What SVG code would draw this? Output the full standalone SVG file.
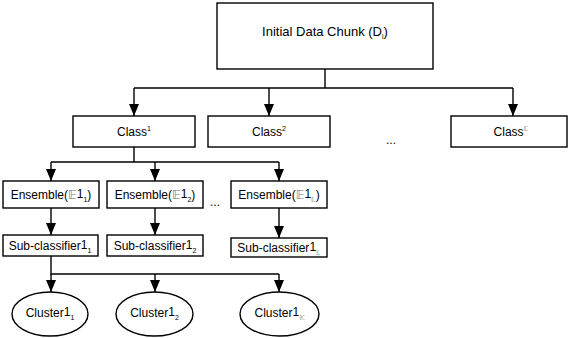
<svg xmlns="http://www.w3.org/2000/svg" width="569" height="338" viewBox="0 0 569 338">
<style>
.box{fill:#fff;stroke:#000;stroke-width:1.4}
.ln{fill:none;stroke:#000;stroke-width:1.4}
text{font-family:"Liberation Sans",Arial,sans-serif;font-size:12px;fill:#000;text-anchor:middle}
.ds{font-family:"DejaVu Sans","Noto Sans",sans-serif;fill:#777}
.sm{font-size:7px}
.big{font-size:13px}
</style>
<rect width="569" height="338" fill="#fff"/>
<g id="connectors">
<path class="ln" d="M325,69 V88 M134,88 H513"/>
<path class="ln" d="M134,88 V116"/>
<path class="ln" d="M269,88 V116"/>
<path class="ln" d="M513,88 V116"/>
<path class="ln" d="M134,147 V162 M51,162 H279"/>
<path class="ln" d="M51,162 V181"/>
<path class="ln" d="M155,162 V181"/>
<path class="ln" d="M279,162 V181"/>
<path class="ln" d="M51,208 V235"/>
<path class="ln" d="M155,208 V235"/>
<path class="ln" d="M279,208 V238"/>
<path class="ln" d="M51,256 V274 H279"/>
<path class="ln" d="M51,274 V292"/>
<path class="ln" d="M155,274 V292"/>
<path class="ln" d="M279,274 V292"/>
<g fill="#000">
<path d="M129,104 H139 L134,116 Z"/>
<path d="M264,104 H274 L269,116 Z"/>
<path d="M508,104 H518 L513,116 Z"/>
<path d="M46,169 H56 L51,181 Z"/>
<path d="M150,169 H160 L155,181 Z"/>
<path d="M274,169 H284 L279,181 Z"/>
<path d="M46,223 H56 L51,235 Z"/>
<path d="M150,223 H160 L155,235 Z"/>
<path d="M274,226 H284 L279,238 Z"/>
<path d="M46,280 H56 L51,292 Z"/>
<path d="M150,280 H160 L155,292 Z"/>
<path d="M274,280 H284 L279,292 Z"/>
</g>
</g>
<g id="initial">
<rect class="box" x="217" y="3" width="216" height="66"/>
<text class="big" x="325" y="36">Initial Data Chunk (D<tspan class="sm" dy="3">i</tspan><tspan dy="-3">)</tspan></text>
</g>
<g id="class1">
<rect class="box" x="73" y="116" width="122" height="31"/>
<text x="134" y="136">Class<tspan class="sm" dy="-5">1</tspan></text>
</g>
<g id="class2">
<rect class="box" x="208" y="116" width="122" height="31"/>
<text x="269" y="136">Class<tspan class="sm" dy="-5">2</tspan></text>
</g>
<text x="391" y="144">...</text>
<g id="classC">
<rect class="box" x="451" y="116" width="116" height="31"/>
<text x="511" y="136">Class<tspan class="sm ds" dy="-5">ℂ</tspan></text>
</g>
<g id="ensemble1">
<rect class="box" x="3" y="181" width="96" height="27"/>
<text x="51" y="199">Ensemble(<tspan class="ds">𝔼</tspan><tspan dy="-1">1</tspan><tspan class="sm" dy="4">1</tspan><tspan dy="-3">)</tspan></text>
</g>
<g id="ensemble2">
<rect class="box" x="107" y="181" width="96" height="27"/>
<text x="155" y="199">Ensemble(<tspan class="ds">𝔼</tspan><tspan dy="-1">1</tspan><tspan class="sm" dy="4">2</tspan><tspan dy="-3">)</tspan></text>
</g>
<text x="215" y="206">...</text>
<g id="ensembleL">
<rect class="box" x="231" y="181" width="96" height="27"/>
<text x="279" y="199">Ensemble(<tspan class="ds">𝔼</tspan><tspan dy="-1">1</tspan><tspan class="sm ds" dy="4">𝕃</tspan><tspan dy="-3">)</tspan></text>
</g>
<g id="sub1">
<rect class="box" x="3" y="235" width="95" height="21"/>
<text x="50" y="250">Sub-classifier<tspan dy="-1">1</tspan><tspan class="sm" dy="4">1</tspan></text>
</g>
<g id="sub2">
<rect class="box" x="107" y="235" width="96" height="21"/>
<text x="155" y="250">Sub-classifier<tspan dy="-1">1</tspan><tspan class="sm" dy="4">2</tspan></text>
</g>
<g id="subL">
<rect class="box" x="231" y="238" width="96" height="19"/>
<text x="279" y="252">Sub-classifier<tspan dy="-1">1</tspan><tspan class="sm ds" dy="4">𝕃</tspan></text>
</g>
<g id="cluster1">
<ellipse class="box" cx="50" cy="314" rx="38" ry="22"/>
<text x="50" y="317">Cluster<tspan dy="-1">1</tspan><tspan class="sm" dy="4">1</tspan></text>
</g>
<g id="cluster2">
<ellipse class="box" cx="154.5" cy="314" rx="38.5" ry="22"/>
<text x="154.5" y="317">Cluster<tspan dy="-1">1</tspan><tspan class="sm" dy="4">2</tspan></text>
</g>
<g id="clusterK">
<ellipse class="box" cx="279.5" cy="314" rx="39.5" ry="22"/>
<text x="279.5" y="317">Cluster<tspan dy="-1">1</tspan><tspan class="sm ds" dy="4">𝕂</tspan></text>
</g>
</svg>
